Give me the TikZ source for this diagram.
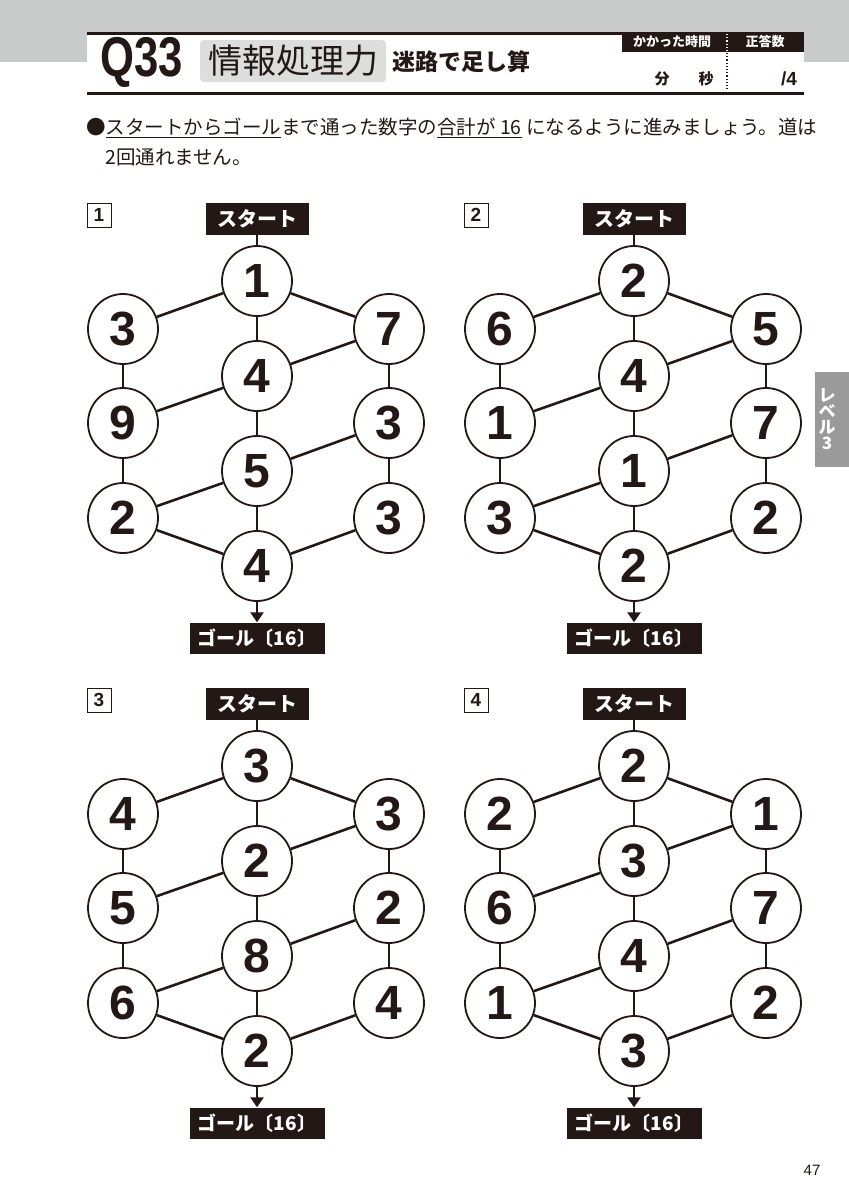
\documentclass[tikz,border=0pt]{standalone}
\usepackage{fontspec}
\setmainfont{Liberation Sans}
\newfontfamily\jp{Noto Sans CJK JP}
\usetikzlibrary{arrows.meta}
\definecolor{ink}{HTML}{231815}
\definecolor{bandgray}{HTML}{C9CACA}
\definecolor{titlegray}{HTML}{DCDDDD}
\definecolor{tabgray}{HTML}{9A9A9A}
\tikzset{
  num/.style={circle, draw=ink, line width=1.8pt, fill=white, minimum size=70pt, inner sep=0pt,
    font=\fontsize{48}{48}\selectfont\bfseries, text=ink},
  startbox/.style={fill=ink, text=white, font=\jp\bfseries\fontsize{20}{20}\selectfont,
    minimum width=103pt, minimum height=32pt, inner sep=0pt},
  goalbox/.style={fill=ink, text=white, font=\jp\bfseries\fontsize{19}{19}\selectfont,
    minimum width=135pt, minimum height=31pt, inner sep=0pt},
  labbox/.style={draw=ink, line width=0.8pt, minimum size=24pt, inner sep=0pt,
    font=\fontsize{19}{19}\selectfont\bfseries, text=ink},
  edge/.style={draw=ink, line width=2.6pt},
  jptext/.style={font=\jp\fontsize{19.5}{19.5}\selectfont, text=ink, inner sep=0pt},
}
\begin{document}
\begin{tikzpicture}[x=1pt,y=-1pt]
\useasboundingbox (0,0) rectangle (849,1200);
% header band
\fill[bandgray] (0,0) rectangle (849,62);
\fill[white] (87,32) rectangle (804,95);
\draw[ink, line width=2.5pt] (87,33.5) -- (622,33.5);
\fill[ink] (622,32) rectangle (804,52);
\node[font=\jp\bfseries\fontsize{13}{13}\selectfont, text=white, inner sep=0pt] (timelab) at (672,42) {かかった時間};
\node[font=\jp\bfseries\fontsize{13}{13}\selectfont, text=white, inner sep=0pt] (scorelab) at (765,42) {正答数};
\draw[white, line width=1.2pt, dotted] (727,34) -- (727,51);
\draw[ink, line width=1.2pt, dotted] (727,53) -- (727,91);
\node[font=\jp\bfseries\fontsize{15}{15}\selectfont, text=ink, inner sep=0pt] (fun) at (662,79) {分};
\node[font=\jp\bfseries\fontsize{15}{15}\selectfont, text=ink, inner sep=0pt] (byo) at (706,79) {秒};
\node[font=\bfseries\fontsize{19}{19}\selectfont, text=ink, inner sep=0pt] (score) at (789,79) {/4};
\draw[ink, line width=3pt] (87,93.5) -- (804,93.5);
\node[font=\bfseries\fontsize{56}{56}\selectfont, text=ink, inner sep=0pt, xscale=0.78] (qnum) at (142,62) {Q33};
\fill[titlegray, rounded corners=4pt] (200,40) rectangle (386,82);
\node[font=\jp\fontsize{34}{34}\selectfont, text=ink, inner sep=0pt] (cat) at (293,61) {情報処理力};
\node[font=\jp\bfseries\fontsize{23}{23}\selectfont, text=ink, inner sep=0pt, anchor=west] (sub) at (392,62) {迷路で足し算};
% instruction
\node[jptext, anchor=west] (inst1) at (86,128) {●\underline{スタートからゴール}まで通った数字の\underline{合計が 16} になるように進みましょう。道は};
\node[jptext, anchor=west] (inst2) at (105,157) {2回通れません。};
% side tab
\fill[tabgray] (815,372) rectangle (849,467);
\node[font=\jp\bfseries\fontsize{17}{16}\selectfont, text=white, inner sep=0pt, align=center] (tab) at (827,419) {レ\\ベ\\ル\\3};
% page number
\node[font=\fontsize{15}{15}\selectfont, text=ink, inner sep=0pt] (page) at (812,1170) {47};
% puzzles
\foreach \p/\cx/\dy/\lab/\ma/\mb/\mc/\md/\la/\lb/\lc/\ra/\rb/\rc in {
  A/257/0/1/1/4/5/4/3/9/2/7/3/3,
  B/634/0/2/2/4/1/2/6/1/3/5/7/2,
  C/257/485/3/3/2/8/2/4/5/6/3/2/4,
  D/634/485/4/2/3/4/3/2/6/1/1/7/2}{
  \node[labbox] (\p-lab) at (\cx-158,215+\dy) {\lab};
  \node[startbox] (\p-s) at (\cx,219+\dy) {スタート};
  \node[goalbox] (\p-g) at (\cx,638+\dy) {ゴール〔16〕};
  \node[num] (\p-m0) at (\cx,281+\dy) {\ma};
  \node[num] (\p-m1) at (\cx,376+\dy) {\mb};
  \node[num] (\p-m2) at (\cx,471+\dy) {\mc};
  \node[num] (\p-m3) at (\cx,566+\dy) {\md};
  \node[num] (\p-l0) at (\cx-134,329+\dy) {\la};
  \node[num] (\p-l1) at (\cx-134,423+\dy) {\lb};
  \node[num] (\p-l2) at (\cx-134,518+\dy) {\lc};
  \node[num] (\p-r0) at (\cx+132,329+\dy) {\ra};
  \node[num] (\p-r1) at (\cx+132,423+\dy) {\rb};
  \node[num] (\p-r2) at (\cx+132,518+\dy) {\rc};
  \draw[edge] (\p-s) -- (\p-m0);
  \draw[edge] (\p-m0) -- (\p-m1);
  \draw[edge] (\p-m1) -- (\p-m2);
  \draw[edge] (\p-m2) -- (\p-m3);
  \draw[edge] (\p-l0) -- (\p-l1);
  \draw[edge] (\p-l1) -- (\p-l2);
  \draw[edge] (\p-r0) -- (\p-r1);
  \draw[edge] (\p-r1) -- (\p-r2);
  \draw[edge] (\p-m0) -- (\p-l0);
  \draw[edge] (\p-m0) -- (\p-r0);
  \draw[edge] (\p-m1) -- (\p-l1);
  \draw[edge] (\p-m1) -- (\p-r0);
  \draw[edge] (\p-m2) -- (\p-r1);
  \draw[edge] (\p-m2) -- (\p-l2);
  \draw[edge] (\p-m3) -- (\p-l2);
  \draw[edge] (\p-m3) -- (\p-r2);
  \draw[edge, -{Triangle[length=10pt,width=13pt]}] (\p-m3) -- (\p-g);
}
\end{tikzpicture}
\end{document}
